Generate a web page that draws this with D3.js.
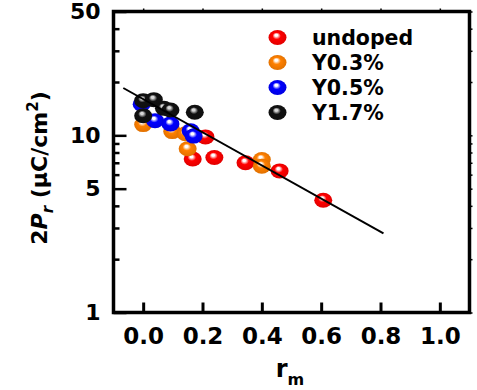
<!DOCTYPE html>
<html>
<head>
<meta charset="utf-8">
<script src="https://cdn.jsdelivr.net/npm/d3@7"></script>
<style>
  html, body { margin: 0; padding: 0; background: #fff; }
  svg text { font-family: 'DejaVu Sans', sans-serif; font-weight: bold; fill: #000; }
</style>
</head>
<body>
<figure id="chart" style="margin:0"></figure>
<script>
// series
const seriesNames = ['undoped', 'Y0.3%', 'Y0.5%', 'Y1.7%'];
const seriesColors = ['#ff0000', '#ff8000', '#0000ff', '#000000'];

const undopedX = [0.21, 0.167, 0.24, 0.345, 0.46, 0.607];
const undopedY = [9.8, 7.35, 7.5, 7.0, 6.3, 4.3];

const y03X = [0.0, 0.098, 0.143, 0.15, 0.40, 0.40];
const y03Y = [11.5, 10.5, 10.2, 8.4, 7.3, 6.7];

const y05X = [-0.005, 0.04, 0.092, 0.16, 0.17];
const y05Y = [15.0, 12.1, 11.6, 10.6, 9.9];

const y17X = [0.0, 0.036, 0.07, 0.092, 0.174, 0.0];
const y17Y = [15.7, 15.9, 14.2, 13.9, 13.5, 12.9];

// fitted line (straight on log axis)
const fitX = [-0.067, 0.81];
const fitY = [18.5, 2.8];

const xTicks = [0.0, 0.2, 0.4, 0.6, 0.8, 1.0];
const yTicks = [1, 5, 10, 50];
const yMinorTicks = [2, 3, 4, 6, 7, 8, 9, 20, 30, 40];

const width = 477;
const height = 390;
const plotLeft = 113.5, plotRight = 469.5, plotTop = 11.5, plotBottom = 312.5;

const svg = d3.select('figure#chart')
  .append('svg')
  .attr('width', width)
  .attr('height', height);

const x = d3.scaleLinear().domain([-0.1, 1.1]).range([plotLeft, plotRight]);
const y = d3.scaleLog().domain([1, 50]).range([plotBottom, plotTop]);

// shaded ball markers
const defs = svg.append('defs');
seriesColors.forEach((c, i) => {
  const g = defs.append('radialGradient')
    .attr('id', 'ball' + i)
    .attr('cx', '0.5').attr('cy', '0.5').attr('r', '0.55')
    .attr('fx', '0.42').attr('fy', '0.32');
  const hi = i === 3 ? '#d8d8d8' : '#ffffff';
  const base = i === 3 ? '#111' : c;
  g.append('stop').attr('offset', '0%').attr('stop-color', hi);
  g.append('stop').attr('offset', '14%').attr('stop-color', hi);
  g.append('stop').attr('offset', '42%').attr('stop-color', base);
  g.append('stop').attr('offset', '100%').attr('stop-color', d3.color(base).darker(0.4));
});

// bottom axis, ticks pointing inward
const xAxis = svg.append('g')
  .attr('transform', 'translate(0,' + plotBottom + ')')
  .call(d3.axisBottom(x).tickValues(xTicks).tickSize(-10).tickFormat(d3.format('.1f')));
xAxis.select('.domain').remove();
xAxis.selectAll('line').attr('stroke-width', 3);
xAxis.selectAll('text')
  .attr('y', 31).attr('dy', 0)
  .style('font-size', '23px');

// top axis: tiny outer ticks
const xTop = svg.append('g')
  .attr('transform', 'translate(0,' + plotTop + ')')
  .call(d3.axisTop(x).tickValues(xTicks).tickSize(3).tickFormat(''));
xTop.select('.domain').remove();
xTop.selectAll('line').attr('stroke-width', 1.5);

// left axis
const yAxis = svg.append('g')
  .attr('transform', 'translate(' + plotLeft + ',0)')
  .call(d3.axisLeft(y).tickValues(yTicks).tickSize(-13).tickPadding(13).tickFormat(d3.format('d')));
yAxis.select('.domain').remove();
yAxis.selectAll('line').attr('stroke-width', 2.5);
yAxis.selectAll('text').style('font-size', '22px');

const yMinor = svg.append('g')
  .attr('transform', 'translate(' + plotLeft + ',0)')
  .call(d3.axisLeft(y).tickValues(yMinorTicks).tickSize(-6).tickFormat(''));
yMinor.select('.domain').remove();
yMinor.selectAll('line').attr('stroke-width', 2.5);

// right axis: tiny outer ticks
const yRight = svg.append('g')
  .attr('transform', 'translate(' + plotRight + ',0)')
  .call(d3.axisRight(y).tickValues(yTicks.concat(yMinorTicks)).tickSize(3).tickFormat(''));
yRight.select('.domain').remove();
yRight.selectAll('line').attr('stroke-width', 1.5);

// frame
svg.append('rect')
  .attr('x', plotLeft).attr('y', plotTop)
  .attr('width', plotRight - plotLeft).attr('height', plotBottom - plotTop)
  .attr('fill', 'none').attr('stroke', '#000').attr('stroke-width', 3.5);

// points
const allX = [undopedX, y03X, y05X, y17X];
const allY = [undopedY, y03Y, y05Y, y17Y];
allX.forEach((xs, i) => {
  const pts = xs.map((v, j) => ({ x: v, y: allY[i][j] }));
  svg.append('g').selectAll('ellipse')
    .data(pts)
    .enter()
    .append('ellipse')
    .attr('cx', (d) => x(d.x))
    .attr('cy', (d) => y(d.y))
    .attr('rx', 9).attr('ry', 7.5)
    .attr('fill', 'url(#ball' + i + ')');
});

// fit line on top
const fit = fitX.map((v, j) => ({ x: v, y: fitY[j] }));
svg.append('path')
  .datum(fit)
  .attr('fill', 'none')
  .attr('stroke', '#000')
  .attr('stroke-width', 2)
  .attr('d', d3.line().x((d) => x(d.x)).y((d) => y(d.y)));

// legend
const legend = svg.append('g');
seriesNames.forEach((name, i) => {
  const cy = 37.5 + i * 25;
  legend.append('ellipse')
    .attr('cx', 277.5).attr('cy', cy)
    .attr('rx', 9).attr('ry', 7.5)
    .attr('fill', 'url(#ball' + i + ')');
  legend.append('text')
    .attr('x', 312).attr('y', cy + 7.5)
    .style('font-size', '20.5px')
    .text(name);
});

// axis titles
const xt = svg.append('text')
  .attr('x', 290).attr('y', 377)
  .attr('text-anchor', 'middle')
  .style('font-size', '24px');
xt.append('tspan').text('r');
xt.append('tspan').attr('dy', 8).style('font-size', '16px').text('m');

const yt = svg.append('text')
  .attr('transform', 'translate(47,168) rotate(-90)')
  .attr('text-anchor', 'middle')
  .style('font-size', '22px');
yt.append('tspan').text('2');
yt.append('tspan').style('font-style', 'italic').text('P');
yt.append('tspan').attr('dy', 6).style('font-size', '15px').style('font-style', 'italic').text('r');
yt.append('tspan').attr('dy', -6).text(' (\u03bcC/cm');
yt.append('tspan').attr('dy', -9).style('font-size', '15px').text('2');
yt.append('tspan').attr('dy', 9).text(')');
</script>
</body>
</html>
